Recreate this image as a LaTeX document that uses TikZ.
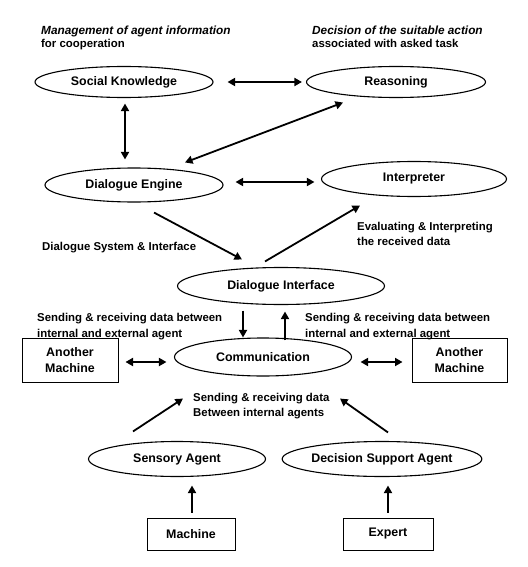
\documentclass[tikz,border=0pt]{standalone}
\usepackage{fontspec}
\setmainfont{Liberation Sans}
\usetikzlibrary{shapes.geometric,arrows.meta}

\begin{document}
\begin{tikzpicture}[x=1pt,y=-1pt,
  oval/.style={ellipse, draw, line width=1.1pt, inner sep=0pt,
    font=\fontsize{12.4}{15}\selectfont\bfseries},
  unit/.style={rectangle, draw, line width=1pt, inner sep=0pt, align=center,
    font=\fontsize{12.4}{16.5}\selectfont\bfseries},
  note/.style={anchor=base west, inner sep=0pt,
    font=\fontsize{11.4}{14}\selectfont\bfseries},
  inote/.style={note, font=\fontsize{11.8}{14}\selectfont\bfseries\itshape},
  tip/.tip={Triangle[length=7.5pt,width=8pt]},
  arr/.style={line width=1.8pt, -tip},
  biarr/.style={line width=1.8pt, tip-tip}
]
\useasboundingbox[fill=white] (0,0) rectangle (527,567);

% ---- agent modules ----
\node[oval, minimum width=178pt, minimum height=31pt] (sk)  at (124,82)  {Social Knowledge};
\node[oval, minimum width=179pt, minimum height=31pt] (rs)  at (396,82)  {Reasoning};
\node[oval, minimum width=178pt, minimum height=34pt] (de)  at (134,185) {Dialogue Engine};
\node[oval, minimum width=185pt, minimum height=35pt] (ip)  at (414,179) {Interpreter};
\node[oval, minimum width=207pt, minimum height=37pt] (di)  at (281,286) {Dialogue Interface};
\node[oval, minimum width=177pt, minimum height=38pt] (cm)  at (263,357) {Communication};
\node[oval, minimum width=177pt, minimum height=35pt] (sa)  at (177,459) {Sensory Agent};
\node[oval, minimum width=177pt, minimum height=35pt] (dsa) at (382,459) {Decision Support Agent};

% ---- external entities ----
\node[unit, minimum width=96pt, minimum height=44pt] (amL) at (70,360)    {Another\\Machine};
\node[unit, minimum width=95pt, minimum height=44pt] (amR) at (459.5,360) {Another\\Machine};
\node[unit, minimum width=88pt, minimum height=32pt] (mc)  at (191,534)   {Machine};
\node[unit, minimum width=90pt, minimum height=32pt] (ex)  at (388,534)   {Expert};

% ---- annotations ----
\node[inote] (n1a) at (41,35)   {Management of agent information};
\node[note]  (n1b) at (41,48)   {for cooperation};
\node[inote] (n2a) at (312,35)  {Decision of the suitable action};
\node[note]  (n2b) at (312,48)  {associated with asked task};
\node[note]  (n3)  at (42,250.5) {Dialogue System \& Interface};
\node[note]  (n4a) at (357,230) {Evaluating \& Interpreting};
\node[note]  (n4b) at (357,245.5) {the received data};
\node[note]  (n5a) at (37,321.5) {Sending \& receiving data between};
\node[note]  (n5b) at (37,337)  {internal and external agent};
\node[note]  (n6a) at (305,321.5) {Sending \& receiving data between};
\node[note]  (n6b) at (305,337) {internal and external agent};
\node[note]  (n7a) at (193,401.5) {Sending \& receiving data};
\node[note]  (n7b) at (193,416.5) {Between internal agents};

% ---- connectors ----
\draw[biarr] ([shift={(14,0)}]sk.east)     -- ([shift={(-4,0)}]rs.west);
\draw[biarr] ([shift={(1,5.5)}]sk.south)   -- ([shift={(-9,-8)}]de.north);
\draw[biarr] ([shift={(-53,4.5)}]rs.south) -- ([shift={(51,-5)}]de.north);
\draw[biarr] ([shift={(12,-3)}]de.east)    -- ([shift={(-6.5,3)}]ip.west);
\draw[arr]   ([shift={(20,10)}]de.south)   -- ([shift={(-39,-7.5)}]di.north);
\draw[arr]   ([shift={(-16,-5.5)}]di.north) -- ([shift={(-54,8.5)}]ip.south);
\draw[arr]   ([shift={(-38,5.5)}]di.south) -- ([shift={(-20,0)}]cm.north);
\draw[arr]   ([shift={(22,3)}]cm.north)    -- ([shift={(4,6.5)}]di.south);
\draw[biarr] ([shift={(7,2)}]amL.east)     -- ([shift={(-7.5,5)}]cm.west);
\draw[biarr] ([shift={(8.5,5)}]cm.east)    -- ([shift={(-9,2)}]amR.west);
\draw[arr]   ([shift={(-44,-9.5)}]sa.north) -- ([shift={(-80,22)}]cm.south);
\draw[arr]   ([shift={(6,-8.5)}]dsa.north) -- ([shift={(77,22)}]cm.south);
\draw[arr]   ([shift={(1,-5)}]mc.north)    -- ([shift={(15,8.5)}]sa.south);
\draw[arr]   ([shift={(0,-5)}]ex.north)    -- ([shift={(6,8.5)}]dsa.south);
\end{tikzpicture}
\end{document}
